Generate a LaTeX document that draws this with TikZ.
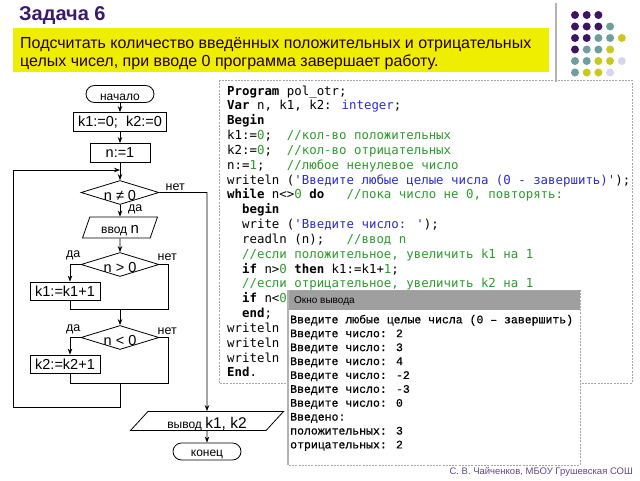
\documentclass[tikz,border=0pt]{standalone}
\usepackage{fontspec}
\setmainfont{Liberation Sans}
\newfontfamily\codefont{DejaVu Sans Mono}
\newfontfamily\winfont[FakeBold=0.6]{Liberation Mono}
\usetikzlibrary{shapes.geometric,arrows.meta,positioning}
\definecolor{titlepurple}{HTML}{3A1A6A}
\definecolor{boxyellow}{HTML}{F0EE00}
\definecolor{dotP}{HTML}{3C1464}
\definecolor{dotT}{HTML}{6E9E9E}
\definecolor{dotY}{HTML}{C8C81E}
\definecolor{dotL}{HTML}{D6D6EA}
\definecolor{codeblue}{HTML}{2B2BC8}
\definecolor{codegreen}{HTML}{2E9A2E}
\newcommand{\kw}[1]{\textbf{#1}}
\newcommand{\pstr}[1]{\textcolor{codeblue}{#1}}
\newcommand{\cmt}[1]{\textcolor{codegreen}{#1}}
\newcommand{\nmb}[1]{\textcolor{codegreen}{#1}}
\newcommand{\dn}[1]{\raisebox{-3pt}[\height][\depth]{#1}}

\begin{document}
\begin{tikzpicture}[
  x=1pt,y=-1pt,>={Stealth[length=6pt,width=4.5pt]},
  every node/.style={inner sep=0pt},
  flow/.style={line width=0.8pt},
  termbox/.style={draw,line width=0.8pt,rounded corners=8.5pt,minimum width=68pt,minimum height=17pt,font=\fontsize{12}{14}\selectfont},
  procbox/.style={draw,line width=0.8pt,minimum height=19pt,font=\fontsize{14.5}{16}\selectfont},
  decbox/.style={draw,diamond,aspect=3,line width=0.8pt,minimum width=78pt,minimum height=24pt,font=\fontsize{14.5}{16}\selectfont},
  iobox/.style={draw,trapezium,trapezium stretches body,line width=0.8pt,font=\fontsize{12}{14}\selectfont},
  lbl/.style={font=\fontsize{12.5}{14}\selectfont},
  codeline/.style={anchor=base west,font=\codefont\fontsize{12.4}{14}\selectfont},
  winline/.style={anchor=base west,font=\winfont\fontsize{11.5}{13}\selectfont},
  dashframe/.style={dash pattern=on 2pt off 1.2pt,draw=gray!70,line width=0.8pt}
]
  \useasboundingbox (0,0) rectangle (640,480);

  % Heading and task text
  \node[anchor=west,font=\bfseries\fontsize{20}{24}\selectfont,text=titlepurple] (title) at (19,16) {Задача 6};
  \fill[boxyellow] (13,28) rectangle (549,72);
  \node[anchor=base west,font=\fontsize{16}{18}\selectfont,text=black!85!red] (task1) at (20,48.5) {Подсчитать количество введённых положительных и отрицательных};
  \node[anchor=base west,font=\fontsize{16}{18}\selectfont,text=black!85!red] (task2) at (20,66.5) {целых чисел, при вводе 0 программа завершает работу.};

  % Corner decoration
  \draw[gray!60,line width=1.6pt] (556,3) -- (556,82);
  \foreach \row/\cols in {0/{P,P,P},1/{P,P,P,T},2/{P,P,T,T,Y},3/{P,T,T,Y},4/{T,T,Y,Y,L},5/{T,Y,Y,L}}
    \foreach \c [count=\k from 0] in \cols
      \fill[dot\c] ({575+11.7*\k},{15+11.5*\row}) circle (4);

  % Flowchart
  \node[termbox] (start) at (120,94) {\dn{начало}};
  \node[procbox,minimum width=93pt] (init) at (120,122) {k1:=0;\ \ k2:=0};
  \node[procbox,minimum width=60pt] (setn) at (120,153) {n:=1};
  \coordinate (loopin) at (120,170);
  \node[decbox] (whilecond) at (120,192.5) {\dn{n ≠ 0}};
  \node[iobox,trapezium left angle=55,trapezium right angle=125,minimum width=75pt,minimum height=21pt] (readn) at (120,227.5) {\dn{ввод {\fontsize{15}{16}\selectfont n}}};
  \node[decbox] (ifpos) at (120,264.5) {\dn{n > 0}};
  \node[procbox,minimum width=70pt,minimum height=18pt] (incpos) at (65,291) {k1:=k1+1};
  \node[decbox] (ifneg) at (120,337.5) {\dn{n < 0}};
  \node[procbox,minimum width=70pt,minimum height=18pt] (incneg) at (65,364) {k2:=k2+1};
  \node[iobox,trapezium left angle=38,trapezium right angle=142,minimum width=153pt,minimum height=19pt] (output) at (207,421) {\dn{вывод {\fontsize{15.5}{16}\selectfont k1, k2}}};
  \node[termbox] (stop) at (207,451.5) {\dn{конец}};

  \coordinate (posyes) at (70,264.5);
  \coordinate (posno) at (168,264.5);
  \coordinate (posjoin) at (120,309);
  \coordinate (negyes) at (70,337.5);
  \coordinate (negno) at (168,337.5);
  \coordinate (negjoin) at (120,383);
  \coordinate (loopbot) at (120,407);
  \coordinate (loopleft) at (13,407);
  \coordinate (looptop) at (13,170);
  \coordinate (exitno) at (207,192.5);

  \draw[flow,->] (start) -- (init);
  \draw[flow,->] (init) -- (setn);
  \draw[flow,->] (setn) -- (whilecond);
  \draw[flow,->] (whilecond) -- (readn);
  \draw[flow,->] (readn) -- (ifpos);
  \draw[flow,->] (ifpos.west) -- (posyes) -- (posyes |- incpos.north);
  \draw[flow] (posyes |- incpos.south) |- (posjoin);
  \draw[flow] (ifpos.east) -- (posno) |- (posjoin);
  \draw[flow,->] (posjoin) -- (ifneg);
  \draw[flow,->] (ifneg.west) -- (negyes) -- (negyes |- incneg.north);
  \draw[flow] (negyes |- incneg.south) |- (negjoin);
  \draw[flow] (ifneg.east) -- (negno) |- (negjoin);
  \draw[flow] (negjoin) -- (loopbot) -- (loopleft) -- (looptop);
  \draw[flow,->] (looptop) -- (loopin);
  \draw[flow,->] (whilecond.east) -- (exitno) -- (output);
  \draw[flow,->] (output) -- (stop);

  \node[lbl,above right=2pt and 6pt of whilecond.east] (no1) {нет};
  \node[lbl,below right=0pt and 8pt of whilecond.south] (yes1) {да};
  \node[lbl,above left=4pt and 0pt of ifpos.west] (yes2) {да};
  \node[lbl,above right=4pt and -2pt of ifpos.east] (no2) {нет};
  \node[lbl,above left=3pt and 0pt of ifneg.west] (yes3) {да};
  \node[lbl,above right=3pt and -2pt of ifneg.east] (no3) {нет};

  % Program text
  \draw[dashframe] (219,80) rectangle (632,383);
  \foreach \ln [count=\i from 0] in {
    {\kw{Program} pol\_otr;},
    {\kw{Var} n, k1, k2: \pstr{integer};},
    {\kw{Begin}},
    {k1:=\nmb{0};\ \ \cmt{//кол-во положительных}},
    {k2:=\nmb{0};\ \ \cmt{//кол-во отрицательных}},
    {n:=\nmb{1};\ \ \ \cmt{//любое ненулевое число}},
    {writeln (\pstr{'Введите любые целые числа (0 - завершить)'});},
    {\kw{while} n<>\nmb{0} \kw{do}\ \ \ \cmt{//пока число не 0, повторять:}},
    {\ \ \kw{begin}},
    {\ \ write (\pstr{'Введите число: '});},
    {\ \ readln (n);\ \ \ \cmt{//ввод n}},
    {\ \ \cmt{//если положительное, увеличить k1 на 1}},
    {\ \ \kw{if} n>\nmb{0} \kw{then} k1:=k1+\nmb{1};},
    {\ \ \cmt{//если отрицательное, увеличить k2 на 1}},
    {\ \ \kw{if} n<\nmb{0}},
    {\ \ \kw{end};},
    {writeln},
    {writeln},
    {writeln},
    {\kw{End}.}}
    \node[codeline] (code\i) at (227,{95+14.84*\i}) {\ln};

  % Output window
  \fill[white] (288,290) rectangle (580,465);
  \fill[gray!75] (288,290) rectangle (580,310);
  \draw[dashframe] (288,290) rectangle (580,465);
  \draw[gray!60,line width=2pt] (288,290) -- (288,465);
  \node[anchor=base west,font=\fontsize{10}{12}\selectfont] (wintitle) at (294,303.5) {Окно вывода};
  \foreach \ln [count=\i from 0] in {
    {Введите любые целые числа (0 – завершить)},
    {Введите число: 2},
    {Введите число: 3},
    {Введите число: 4},
    {Введите число: -2},
    {Введите число: -3},
    {Введите число: 0},
    {Введено:},
    {положительных: 3},
    {отрицательных: 2}}
    \node[winline] (win\i) at (290,{323.3+13.9*\i}) {\ln};

  % Author
  \node[anchor=base east,font=\fontsize{9.5}{11}\selectfont,text=titlepurple!80] (credit) at (633,474) {С. В. Чайченков, МБОУ Грушевская СОШ};
\end{tikzpicture}
\end{document}
